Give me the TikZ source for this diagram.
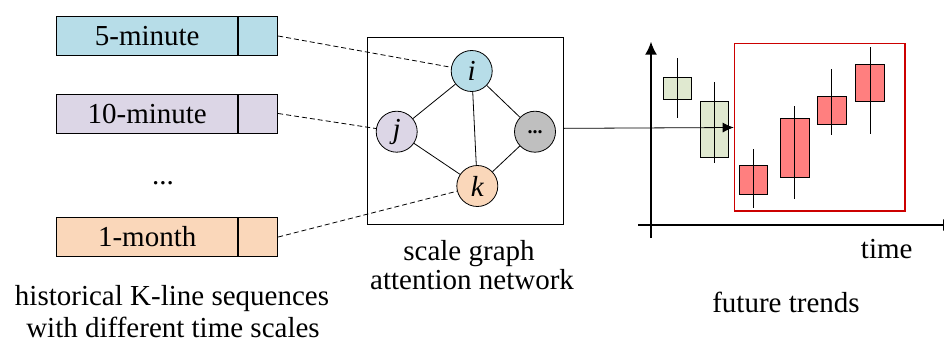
\documentclass[tikz,border=0pt]{standalone}
\usepackage{fontspec}
\setmainfont{Liberation Serif}
\usetikzlibrary{arrows.meta}
\definecolor{cblue}{HTML}{B7DDE8}
\definecolor{cpurple}{HTML}{DCD6E6}
\definecolor{corange}{HTML}{FAD7BA}
\definecolor{cgray}{HTML}{BFBFBF}
\definecolor{cgreen}{HTML}{E0E9D0}
\definecolor{cred}{HTML}{FF7F7F}
\definecolor{cbox}{HTML}{CC0000}
\begin{document}
\begin{tikzpicture}[x=1pt,y=-1pt,
  seqmain/.style={draw, line width=0.8pt, minimum width=181pt, minimum height=39pt, inner sep=0pt, font=\fontsize{29}{32}\selectfont},
  seqtail/.style={draw, line width=0.8pt, minimum width=39.3pt, minimum height=39pt, inner sep=0pt},
  gnode/.style={circle, draw, line width=0.8pt, minimum size=41pt, inner sep=0pt, font=\fontsize{29}{30}\selectfont\itshape},
  link/.style={line width=0.8pt},
  conn/.style={dashed, line width=0.8pt, dash pattern=on 5pt off 3pt},
  lbl/.style={anchor=base, inner sep=0pt, font=\fontsize{29}{32}\selectfont},
  axis/.style={line width=1.5pt, -{Latex[length=13pt,width=12pt]}},
  bodyG/.style={draw, line width=0.8pt, fill=cgreen},
  bodyR/.style={draw, line width=0.8pt, fill=cred},
  wick/.style={line width=0.8pt}
]
\useasboundingbox (0,0) rectangle (944,343);

% left sequences
\node[seqmain, fill=cblue] (m1) at (147.2,36) {5-minute};
\node[seqtail, fill=cblue, anchor=west] (t1) at (m1.east) {};
\node[seqmain, fill=cpurple] (m2) at (147.2,113.5) {10-minute};
\node[seqtail, fill=cpurple, anchor=west] (t2) at (m2.east) {};
\node[seqmain, fill=corange] (m3) at (147.2,237) {1-month};
\node[seqtail, fill=corange, anchor=west] (t3) at (m3.east) {};
\node[lbl] (vdots) at (163,184) {...};

% graph box
\node[draw, line width=0.8pt, minimum width=195.6pt, minimum height=186.3pt, inner sep=0pt] (gbox) at (465.5,130.85) {};
\node[gnode, fill=cblue] (i) at (471.7,71) {i};
\node[gnode, fill=cpurple] (j) at (396.7,131.7) {j};
\node[gnode, fill=cgray, font=\fontsize{20}{20}\selectfont\bfseries] (o) at (535,131.7) {...};
\node[gnode, fill=corange] (k) at (477.3,186) {k};
\draw[link] (i) -- (j);
\draw[link] (i) -- (k);
\draw[link] (i) -- (o);
\draw[link] (j) -- (k);
\draw[link] (k) -- (o);

\draw[conn] (t1.east) -- (i);
\draw[conn] (t2.east) -- (j);
\draw[conn] (t3.east) -- (k);

% chart
\coordinate (yb) at (651,238);
\coordinate (yt) at (651,41.7);
\coordinate (xl) at (638,225);
\coordinate (xr) at (956,225);
\draw[axis] (yb) -- (yt);
\draw[axis] (xl) -- (xr);

\node[draw=cbox, line width=1.2pt, minimum width=170.7pt, minimum height=167.7pt, inner sep=0pt] (fut) at (819.65,127.15) {};

\draw[bodyG] (663.3,77.3) rectangle (691.7,99.3);
\draw[wick] (677.3,58.3) -- (677.3,118.3);
\draw[bodyG] (700,101.3) rectangle (728.3,157.3);
\draw[wick] (714.3,82.3) -- (714.3,163.3);
\draw[bodyR] (739.3,165.3) rectangle (767.3,194.3);
\draw[wick] (753.3,149) -- (753.3,207.7);
\draw[bodyR] (780.7,118.7) rectangle (809,177.3);
\draw[wick] (794.3,106) -- (794.3,199.3);
\draw[bodyR] (817.7,96.7) rectangle (846,124);
\draw[wick] (831.7,69.3) -- (831.7,135);
\draw[bodyR] (855.7,64.3) rectangle (884.3,101.7);
\draw[wick] (870,47.3) -- (870,134);

\coordinate (tip) at (fut.west |- 0,127.5);
\draw[line width=0.8pt, -{Latex[length=11pt,width=10pt]}] ([yshift=2.5pt]gbox.east) -- (tip);

% labels
\node[lbl] (time) at (886.7,258) {time};
\node[lbl] (h1) at (172,305) {historical K-line sequences};
\node[lbl] (h2) at (173,337) {with different time scales};
\node[lbl] (s1) at (469,260) {scale graph};
\node[lbl] (s2) at (472,289) {attention network};
\node[lbl] (ft) at (786,312) {future trends};
\end{tikzpicture}
\end{document}
